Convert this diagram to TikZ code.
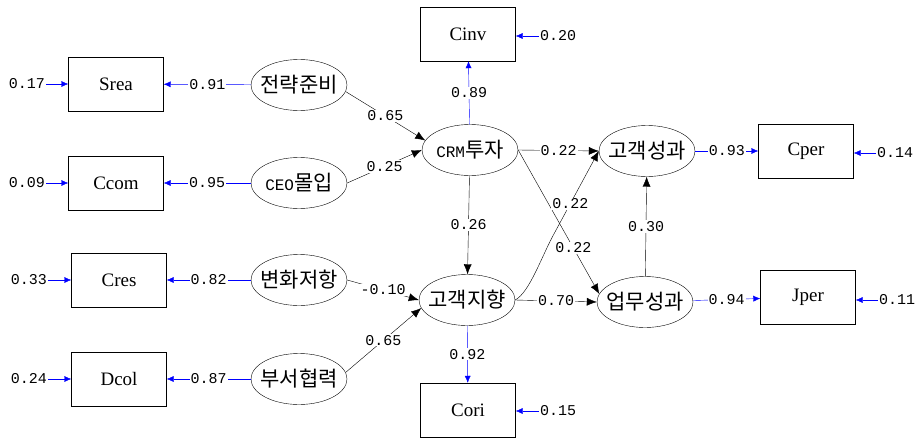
\documentclass[tikz,border=0pt]{standalone}
\usepackage{fontspec}
\setmainfont{Liberation Serif}
\setmonofont{Liberation Mono}
\newfontfamily\kr{Noto Sans CJK KR}
\usetikzlibrary{arrows.meta,shapes.geometric}
\tikzset{
 obs/.style={draw, thin, minimum width=95pt, minimum height=54pt, inner sep=0pt, font=\fontsize{19}{19}\selectfont},
 lat/.style={draw, thin, ellipse, minimum width=96pt, minimum height=51pt, inner sep=0pt, font=\kr\fontsize{21}{21}\selectfont},
 num/.style={font=\ttfamily\fontsize{15}{15}\selectfont, text=black, fill=white, inner sep=1pt},
 errl/.style={font=\ttfamily\fontsize{15}{15}\selectfont, inner sep=1pt},
 ld/.style={blue, thin, -{Latex[length=7pt,width=6pt]}},
 pth/.style={black, thin, -{Latex[length=10pt,width=8pt]}},
}
\newcommand{\monoab}[1]{{\ttfamily\fontsize{16}{16}\selectfont #1}}
\newcommand{\ktxt}[1]{\makebox[0pt]{#1}}
\begin{document}
\begin{tikzpicture}[x=1pt,y=-1pt]
\path[use as bounding box] (0,0) rectangle (918,439);
% observed
\node[obs] (Srea) at (116,84) {Srea};
\node[obs] (Ccom) at (116,183) {Ccom};
\node[obs] (Cres) at (119,280) {Cres};
\node[obs] (Dcol) at (119,379) {Dcol};
\node[obs] (Cinv) at (468,34) {Cinv};
\node[obs] (Cori) at (468,410) {Cori};
\node[obs] (Cper) at (806,151) {Cper};
\node[obs] (Jper) at (808,297) {Jper};
% latent
\node[lat] (SR) at (299,85) {\ktxt{전략준비}};
\node[lat] (CE) at (299,183) {\ktxt{\monoab{CEO}몰입}};
\node[lat] (RC) at (299,280) {\ktxt{변화저항}};
\node[lat] (DC) at (299,379) {\ktxt{부서협력}};
\node[lat] (CRM) at (470,150) {\ktxt{\monoab{CRM}투자}};
\node[lat] (CO) at (467,300) {\ktxt{고객지향}};
\node[lat] (CP) at (647,151) {\ktxt{고객성과}};
\node[lat] (JP) at (645,302) {\ktxt{업무성과}};
% error labels
\node[errl] (e1) at (27,84) {0.17};
\node[errl] (e2) at (27,183) {0.09};
\node[errl] (e3) at (29,280) {0.33};
\node[errl] (e4) at (29,379) {0.24};
\node[errl] (e5) at (558,36) {0.20};
\node[errl] (e6) at (558,411) {0.15};
\node[errl] (e7) at (895,153) {0.14};
\node[errl] (e8) at (897,300) {0.11};
\draw[ld] (e1) -- (Srea);
\draw[ld] (e2) -- (Ccom);
\draw[ld] (e3) -- (Cres);
\draw[ld] (e4) -- (Dcol);
\draw[ld] (e5) -- (Cinv.east |- e5);
\draw[ld] (e6) -- (Cori.east |- e6);
\draw[ld] (e7) -- (Cper.east |- e7);
\draw[ld] (e8) -- (Jper.east |- e8);
% loadings
\draw[ld] (SR) -- node[num]{0.91} (Srea);
\draw[ld] (CE) -- node[num]{0.95} (Ccom);
\draw[ld] (RC) -- node[num]{0.82} (Cres);
\draw[ld] (DC) -- node[num]{0.87} (Dcol);
\draw[ld] (CRM) -- node[num]{0.89} (Cinv);
\draw[ld] (CO) -- node[num]{0.92} (Cori);
\draw[ld] (CP) -- node[num]{0.93} (Cper);
\draw[ld] (JP) -- node[num]{0.94} (Jper);
% structural paths
\draw[pth] (SR.-8) -- node[num]{0.65} (CRM.168);
\draw[pth] (CE.east) -- node[num]{0.25} (CRM.west);
\draw[pth] (RC.east) -- node[num]{-0.10} (CO.west);
\draw[pth] (DC.8) -- node[num]{0.65} (CO.190);
\draw[pth] (CRM) -- node[num]{0.26} (CO);
\draw[pth] (CRM.east) -- node[num]{0.22} (CP.west);
\draw[pth] (CRM.east) -- node[num,pos=0.68]{0.22} (JP.170);
\draw[pth] (CO.east) .. controls (530,292) and (542,255) .. (555,232) -- node[num,pos=0.35]{0.22} (CP.west);
\draw[pth] (CO.east) -- node[num]{0.70} (JP.west);
\draw[pth] (JP) -- node[num]{0.30} (CP);
\end{tikzpicture}
\end{document}
